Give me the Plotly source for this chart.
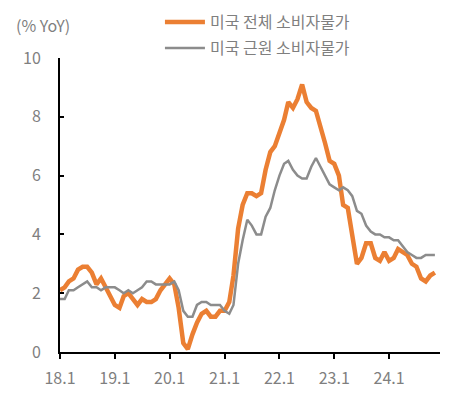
import plotly.graph_objects as go
import pandas as pd

months = pd.date_range("2018-01-01", "2024-11-01", freq="MS")

headline_cpi = [
    2.1, 2.2, 2.4, 2.5, 2.8, 2.9, 2.9, 2.7, 2.3, 2.5, 2.2, 1.9,
    1.6, 1.5, 1.9, 2.0, 1.8, 1.6, 1.8, 1.7, 1.7, 1.8, 2.1, 2.3,
    2.5, 2.3, 1.5, 0.3, 0.1, 0.6, 1.0, 1.3, 1.4, 1.2, 1.2, 1.4,
    1.4, 1.7, 2.6, 4.2, 5.0, 5.4, 5.4, 5.3, 5.4, 6.2, 6.8, 7.0,
    7.5, 7.9, 8.5, 8.3, 8.6, 9.1, 8.5, 8.3, 8.2, 7.7, 7.1, 6.5,
    6.4, 6.0, 5.0, 4.9, 4.0, 3.0, 3.2, 3.7, 3.7, 3.2, 3.1, 3.4,
    3.1, 3.2, 3.5, 3.4, 3.3, 3.0, 2.9, 2.5, 2.4, 2.6, 2.7,
]
core_cpi = [
    1.8, 1.8, 2.1, 2.1, 2.2, 2.3, 2.4, 2.2, 2.2, 2.1, 2.2, 2.2,
    2.2, 2.1, 2.0, 2.1, 2.0, 2.1, 2.2, 2.4, 2.4, 2.3, 2.3, 2.3,
    2.3, 2.4, 2.1, 1.4, 1.2, 1.2, 1.6, 1.7, 1.7, 1.6, 1.6, 1.6,
    1.4, 1.3, 1.6, 3.0, 3.8, 4.5, 4.3, 4.0, 4.0, 4.6, 4.9, 5.5,
    6.0, 6.4, 6.5, 6.2, 6.0, 5.9, 5.9, 6.3, 6.6, 6.3, 6.0, 5.7,
    5.6, 5.5, 5.6, 5.5, 5.3, 4.8, 4.7, 4.3, 4.1, 4.0, 4.0, 3.9,
    3.9, 3.8, 3.8, 3.6, 3.4, 3.3, 3.2, 3.2, 3.3, 3.3, 3.3,
]
tick_dates = ["2018-01-01", "2019-01-01", "2020-01-01", "2021-01-01",
              "2022-01-01", "2023-01-01", "2024-01-01"]
tick_labels = ["18.1", "19.1", "20.1", "21.1", "22.1", "23.1", "24.1"]
series_names = ["미국 전체 소비자물가", "미국 근원 소비자물가"]

ORANGE = "#EB7F33"
GRAY = "#8C8C8C"
TEXT = "#7F7F7F"
FONT = "Noto Sans CJK KR"

fig = go.Figure()
fig.add_trace(go.Scatter(x=months, y=headline_cpi, mode="lines", name=series_names[0],
                         line=dict(color=ORANGE, width=4.5), legend="legend"))
fig.add_trace(go.Scatter(x=months, y=core_cpi, mode="lines", name=series_names[1],
                         line=dict(color=GRAY, width=2.5), legend="legend2"))

leg_common = dict(xanchor="left", yanchor="middle", bgcolor="rgba(0,0,0,0)",
                  font=dict(size=16, color=TEXT), itemwidth=40)

fig.update_layout(
    width=467, height=393,
    margin=dict(l=52, r=35, t=50, b=49, autoexpand=False),
    paper_bgcolor="white", plot_bgcolor="white",
    font=dict(family=FONT, size=16, color=TEXT),
    showlegend=True,
    legend=dict(x=0.263, y=1.122, **leg_common),
    legend2=dict(x=0.263, y=1.034, **leg_common),
    xaxis=dict(
        range=["2018-01-01", "2024-12-05"],
        tickvals=tick_dates, ticktext=tick_labels,
        showgrid=False, zeroline=False,
        showline=True, linecolor="black", linewidth=2,
        ticks="outside", ticklen=5, tickwidth=2, tickcolor="black",
        ticklabelstandoff=6,
        tickfont=dict(size=16, color=TEXT),
    ),
    yaxis=dict(
        range=[0, 10], tickvals=[0, 2, 4, 6, 8, 10],
        showgrid=False, zeroline=False,
        showline=True, linecolor="black", linewidth=2,
        ticks="inside", ticklen=4, tickwidth=2, tickcolor="black",
        ticklabelstandoff=14,
        tickfont=dict(size=16, color=TEXT),
    ),
    annotations=[dict(text="(% YoY)", xref="paper", yref="paper",
                      x=-0.12, y=1.112, xanchor="left", yanchor="middle",
                      showarrow=False, font=dict(size=16, color=TEXT))],
)

fig.write_html("out.html")
